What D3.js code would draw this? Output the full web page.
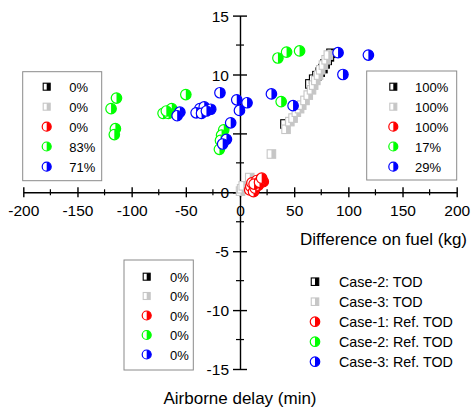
<!DOCTYPE html>
<html>
<head>
<meta charset="utf-8">
<script src="https://cdn.jsdelivr.net/npm/d3@7"></script>
<style>
  body { margin: 0; background: #fff; }
  text { font-family: Arial, "Liberation Sans", sans-serif; fill: #000; }
</style>
</head>
<body>
<svg id="chart" width="473" height="410"></svg>
<script>
// Axis ticks
const fuelTicks = [-200, -150, -100, -50, 0, 50, 100, 150, 200];
const fuelMinorTicks = [-175, -125, -75, -25, 25, 75, 125, 175];
const delayTicks = [-15, -10, -5, 0, 5, 10, 15];
const delayMinorTicks = [-12.5, -7.5, -2.5, 2.5, 7.5, 12.5];

// Series (difference on fuel [kg], airborne delay [min])
const seriesNames = ["Case-2: TOD", "Case-3: TOD", "Case-1: Ref. TOD", "Case-2: Ref. TOD", "Case-3: Ref. TOD"];
const seriesShapes = ["square", "square", "circle", "circle", "circle"];
const seriesColors = ["#000000", "#c6c6c6", "#ff0000", "#00ff00", "#0000ff"];

const case2Tod = [[41.5, 5.8], [64.5, 9.2], [68, 9.6], [71, 9.9], [74, 10.2], [76.5, 10.5],
  [78.5, 10.9], [80.5, 11.2], [82.5, 11.5], [84, 11.8]];
const case3Tod = [[0.5, 0.1], [1.5, 0.3], [3, 0.55], [9, 1.25], [29, 3.25], [42.5, 5.35], [46, 6.0],
  [49, 6.3], [52, 6.8], [55, 7.1], [57, 7.4], [60, 7.8], [63, 8.25], [66, 8.7], [68, 9.1], [70, 9.5],
  [72.5, 9.95], [74.5, 10.4], [77, 10.8], [79.5, 11.25], [81.5, 11.65]];
const case1Ref = [[9, 0.2], [10, 0.5], [11, 0.8], [12.5, 0.05], [14, 0.35], [15.5, 1.0], [17, 0.6],
  [19.5, 1.1], [21.5, 0.9], [13, 0.7], [18, 0.85], [20, 1.2]];
const case2Ref = [[-114, 8.0], [-119, 7.1], [-115, 5.4], [-116, 4.9], [-50, 8.3], [-71, 6.7],
  [-63, 7.1], [-66, 6.7], [-68, 6.9], [-15, 5.3], [-17, 4.85], [-19, 3.65], [-18, 4.4],
  [35, 11.4], [43, 11.9], [55, 12.0], [38, 7.7]];
const case3Ref = [[-18.5, 8.45], [-3, 7.85], [6.5, 7.6], [-0.5, 6.95], [-37, 7.1], [-33, 7.25],
  [-27, 7.05], [-40.5, 6.75], [-35.5, 6.7], [-31, 6.9], [-55.5, 6.8], [-58, 6.5], [-8.6, 5.9],
  [-12.5, 4.5], [-16, 4.1], [29, 8.35], [49, 7.35], [90.5, 11.85], [118.5, 11.65], [95, 10.0]];
const seriesData = [case2Tod, case3Tod, case1Ref, case2Ref, case3Ref];

// Share of points per quadrant
const shareUpperLeft = ["0%", "0%", "0%", "83%", "71%"];
const shareUpperRight = ["100%", "100%", "100%", "17%", "29%"];
const shareLowerLeft = ["0%", "0%", "0%", "0%", "0%"];

const svg = d3.select("#chart");
const x = d3.scaleLinear().domain([-200, 200]).range([23.3, 456.7]);
const y = d3.scaleLinear().domain([-15, 15]).range([369, 15.6]);

// Half-filled marker: left half white, right half coloured
function drawMarker(g, shape, color, size) {
  const h = size / 2;
  if (shape === "square") {
    g.append("rect").attr("x", -h).attr("y", -h).attr("width", size).attr("height", size).attr("fill", "#fff");
    g.append("rect").attr("x", 0).attr("y", -h).attr("width", h).attr("height", size).attr("fill", color);
    g.append("rect").attr("x", -h).attr("y", -h).attr("width", size).attr("height", size)
      .attr("fill", "none").attr("stroke", color).attr("stroke-width", 1.1);
  } else {
    g.append("circle").attr("r", h).attr("fill", "#fff");
    g.append("path").attr("d", `M0,${-h}A${h},${h} 0 0 1 0,${h}Z`).attr("fill", color);
    g.append("circle").attr("r", h).attr("fill", "none").attr("stroke", color).attr("stroke-width", 1.2);
  }
}

// X axis through the origin
const gx = svg.append("g").attr("transform", `translate(0,${y(0)})`)
  .call(d3.axisBottom(x).tickValues(fuelTicks).tickSizeOuter(0).tickFormat(d => String(d)));
gx.select(".domain").attr("stroke", "#000").attr("stroke-width", 1.4);
gx.selectAll(".tick line").attr("y1", -5).attr("y2", 5).attr("stroke", "#000").attr("stroke-width", 1.4);
gx.selectAll(".tick text").attr("y", 24).attr("dy", null)
  .style("font-size", "15.5px").style("font-family", "Arial, 'Liberation Sans', sans-serif").attr("fill", "#000");
gx.selectAll(".minor").data(fuelMinorTicks).enter().append("line")
  .attr("x1", d => x(d)).attr("x2", d => x(d)).attr("y1", -3).attr("y2", 3)
  .attr("stroke", "#000").attr("stroke-width", 1.2);

// Y axis through the origin
const gy = svg.append("g").attr("transform", `translate(${x(0)},0)`)
  .call(d3.axisLeft(y).tickValues(delayTicks).tickSizeOuter(0).tickFormat(d => String(d)));
gy.select(".domain").attr("stroke", "#000").attr("stroke-width", 1.4);
gy.selectAll(".tick line").attr("x1", -7).attr("x2", 7).attr("stroke", "#000").attr("stroke-width", 1.4);
gy.selectAll(".tick text").attr("x", -11).attr("dy", "0.36em")
  .style("font-size", "15.5px").style("font-family", "Arial, 'Liberation Sans', sans-serif").attr("fill", "#000");
gy.selectAll(".minor").data(delayMinorTicks).enter().append("line")
  .attr("y1", d => y(d)).attr("y2", d => y(d)).attr("x1", -4).attr("x2", 4)
  .attr("stroke", "#000").attr("stroke-width", 1.2);

// Axis titles
svg.append("text").attr("x", 467).attr("y", 245).attr("text-anchor", "end")
  .style("font-size", "17px").text("Difference on fuel (kg)");
svg.append("text").attr("x", 240).attr("y", 404).attr("text-anchor", "middle")
  .style("font-size", "17px").text("Airborne delay (min)");

// Points
seriesData.forEach((pts, i) => {
  const g = svg.append("g");
  pts.forEach(p => {
    const m = g.append("g").attr("transform", `translate(${x(p[0])},${y(p[1])})`);
    drawMarker(m, seriesShapes[i], seriesColors[i], seriesShapes[i] === "square" ? 8.5 : 10.5);
  });
});

// Quadrant share boxes
function shareBox(x0, y0, w, h, markerX, textX, rowY, labels) {
  const g = svg.append("g");
  g.append("rect").attr("x", x0).attr("y", y0).attr("width", w).attr("height", h)
    .attr("fill", "none").attr("stroke", "#8a8a8a").attr("stroke-width", 1);
  labels.forEach((t, i) => {
    const m = g.append("g").attr("transform", `translate(${markerX},${rowY[i]})`);
    drawMarker(m, seriesShapes[i], seriesColors[i], seriesShapes[i] === "square" ? 7 : 9);
    g.append("text").attr("x", textX).attr("y", rowY[i] + 5).style("font-size", "13px").text(t);
  });
}
shareBox(22.7, 71.7, 79, 109, 46.7, 69.3, [86.7, 106.7, 126.7, 146.5, 166.7], shareUpperLeft);
shareBox(366.7, 71, 90, 109, 393.3, 415, [86.7, 106.7, 126.7, 146.5, 166.7], shareUpperRight);
shareBox(124, 260, 69.3, 110, 146.7, 170, [276.7, 296, 315.5, 335, 354.5], shareLowerLeft);

// Legend
const legend = svg.append("g");
seriesNames.forEach((name, i) => {
  const yy = 281.7 + i * 20;
  const m = legend.append("g").attr("transform", `translate(315,${yy})`);
  drawMarker(m, seriesShapes[i], seriesColors[i], seriesShapes[i] === "square" ? 7.5 : 9.5);
  legend.append("text").attr("x", 339).attr("y", yy + 5.2).style("font-size", "14.3px").text(name);
});
</script>
</body>
</html>
